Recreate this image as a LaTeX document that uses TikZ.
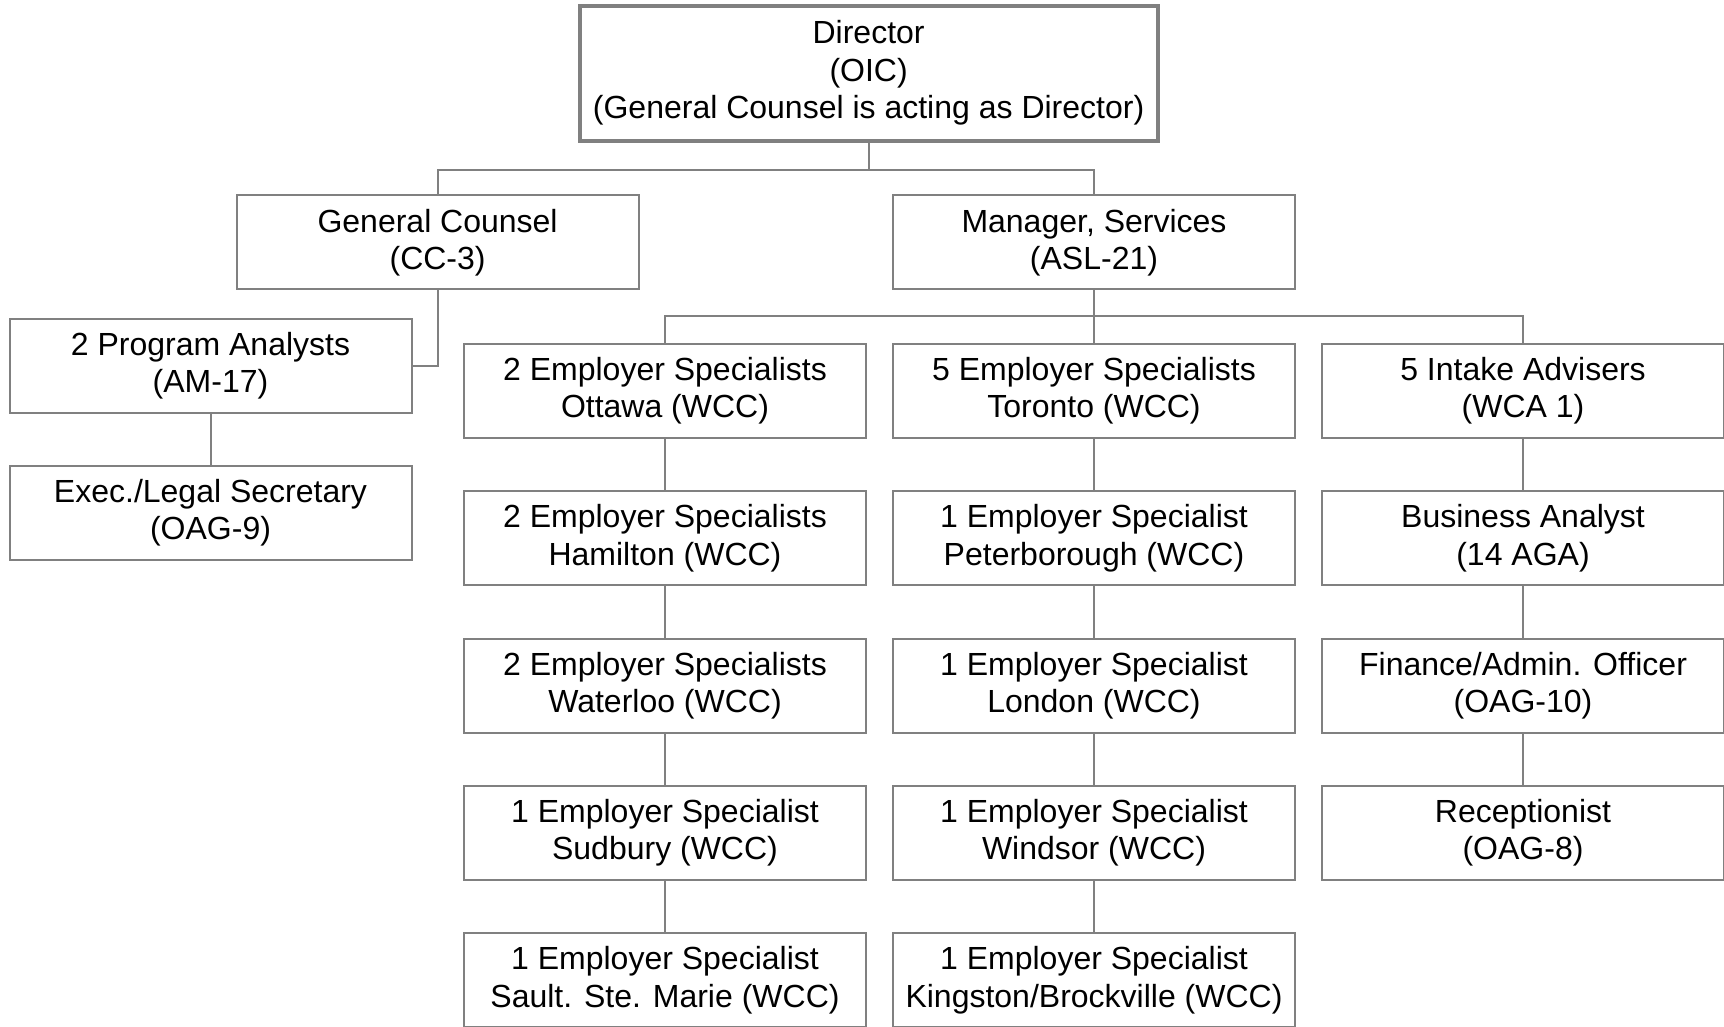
\documentclass[tikz,border=0pt]{standalone}
\usepackage{fontspec}
\setmainfont{Liberation Sans}
\definecolor{linegray}{RGB}{128,128,128}
\begin{document}
\begin{tikzpicture}[x=0.5pt,y=-0.5pt,
  box/.style={draw=linegray,line width=1pt,minimum width=201pt,minimum height=47pt,inner sep=0pt,align=center,font=\fontsize{16}{18.7}\selectfont},
  head/.style={box,line width=2pt,minimum width=289pt,minimum height=67.5pt},
  link/.style={draw=linegray,line width=1pt}]
       \useasboundingbox (0,0) rectangle (1724,1027);
       % top levels
       \node[head] (dir) at (868.6, 73.1) {Director\\(OIC)\\(General Counsel is acting as Director)};
       \node[box] (gc) at (437.6, 242.5) {General Counsel\\(CC-3)};
       \node[box] (mgr) at (1094, 242.5) {Manager, Services\\(ASL-21)};
       \node[box] (pa) at (210.5, 365.6) {2 Program Analysts\\(AM-17)};
       \node[box] (sec) at (210.5, 512.8) {Exec./Legal Secretary\\(OAG-9)};
       % first column
       \node[box] (ott) at (665, 390.9) {2 Employer Specialists\\Ottawa (WCC)};
       \node[box] (ham) at (665, 538.2) {2 Employer Specialists\\Hamilton (WCC)};
       \node[box] (wat) at (665, 685.5) {2 Employer Specialists\\Waterloo (WCC)};
       \node[box] (sud) at (665, 832.8) {1 Employer Specialist\\Sudbury (WCC)};
       \node[box] (sault) at (665, 980.2) {1 Employer Specialist\\Sault. Ste. Marie (WCC)};
       % second column
       \node[box] (tor) at (1094, 390.9) {5 Employer Specialists\\Toronto (WCC)};
       \node[box] (pet) at (1094, 538.2) {1 Employer Specialist\\Peterborough (WCC)};
       \node[box] (lon) at (1094, 685.5) {1 Employer Specialist\\London (WCC)};
       \node[box] (win) at (1094, 832.8) {1 Employer Specialist\\Windsor (WCC)};
       \node[box] (king) at (1094, 980.2) {1 Employer Specialist\\Kingston/Brockville (WCC)};
       % third column
       \node[box] (intake) at (1523, 390.9) {5 Intake Advisers\\(WCA 1)};
       \node[box] (ba) at (1523, 538.2) {Business Analyst\\(14 AGA)};
       \node[box] (fin) at (1523, 685.5) {Finance/Admin. Officer\\(OAG-10)};
       \node[box] (rec) at (1523, 832.8) {Receptionist\\(OAG-8)};

       \draw[link] (dir.south) -- ++(0,27.5) -| (gc.north);
       \draw[link] (dir.south) -- ++(0,27.5) -| (mgr.north);
       \draw[link] (gc.south) |- (pa.east);
       \draw[link] (mgr.south) -- ++(0,25.3) -| (ott.north);
       \draw[link] (mgr.south) -- ++(0,25.3) -| (intake.north);
       \foreach \u/\v in {pa/sec,mgr/tor,ott/ham,ham/wat,wat/sud,sud/sault,tor/pet,pet/lon,lon/win,win/king,intake/ba,ba/fin,fin/rec}{\draw[link] (\u) -- (\v); }
     \end{tikzpicture}
\end{document}
